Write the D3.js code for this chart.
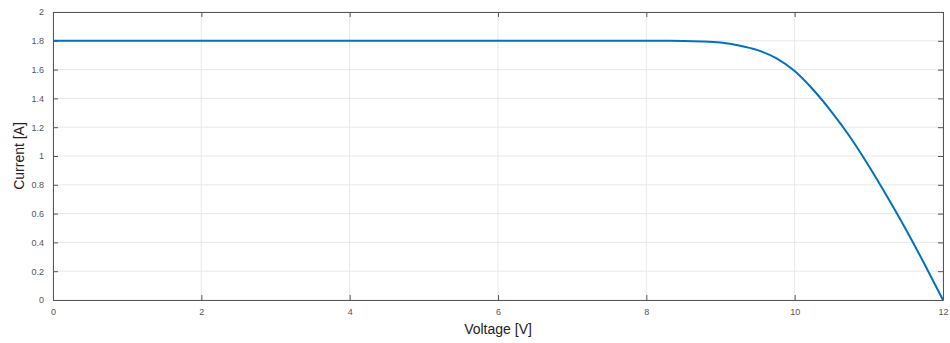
<!DOCTYPE html>
<html>
<head>
<meta charset="utf-8">
<script src="https://cdn.jsdelivr.net/npm/d3@7"></script>
<style>
body{margin:0;background:#fff;}
svg{font-family:"Liberation Sans",Arial,sans-serif;}
</style>
</head>
<body>
<svg id="chart" width="950" height="343"></svg>
<script>
// I-V curve samples
let voltage = [0, 2, 4, 6, 7, 8, 8.5, 8.75, 9, 9.25, 9.5, 9.75, 10, 10.25, 10.5, 10.75, 11, 11.25, 11.5, 11.75, 12];
let current = [1.8, 1.8, 1.8, 1.8, 1.8, 1.8, 1.799, 1.796, 1.788, 1.768, 1.735, 1.68, 1.59, 1.46, 1.305, 1.13, 0.93, 0.715, 0.49, 0.25, 0];
let xTicks = [0, 2, 4, 6, 8, 10, 12];
let yTicks = [0, 0.2, 0.4, 0.6, 0.8, 1, 1.2, 1.4, 1.6, 1.8, 2];

let svg = d3.select('#chart');
let m = {l: 53, r: 943, t: 12, b: 300};
let x = d3.scaleLinear().domain([0, 12]).range([m.l, m.r]);
let y = d3.scaleLinear().domain([0, 2]).range([m.b, m.t]);
let axisCol = '#555';

// grid
let grid = svg.append('g');
grid.selectAll('.vg').data(xTicks).join('line')
  .attr('x1', d => x(d)).attr('x2', d => x(d)).attr('y1', m.t).attr('y2', m.b)
  .attr('stroke', '#e8e8e8').attr('stroke-width', 1);
grid.selectAll('.hg').data(yTicks).join('line')
  .attr('y1', d => y(d)).attr('y2', d => y(d)).attr('x1', m.l).attr('x2', m.r)
  .attr('stroke', '#e8e8e8').attr('stroke-width', 1);

function styleAxis(g){
  g.select('.domain').attr('stroke', axisCol);
  g.selectAll('.tick line').attr('stroke', axisCol);
  g.selectAll('.tick text').attr('fill', '#555').style('font-size', '9px');
}
let fmt = d3.format('~g');

svg.append('g').attr('transform', `translate(0,${m.b})`)
  .call(d3.axisBottom(x).tickValues(xTicks).tickFormat(fmt).tickSizeInner(-5).tickSizeOuter(0).tickPadding(9))
  .call(styleAxis);
svg.append('g').attr('transform', `translate(${m.l},0)`)
  .call(d3.axisLeft(y).tickValues(yTicks).tickFormat(fmt).tickSizeInner(-5).tickSizeOuter(0).tickPadding(9))
  .call(styleAxis);
svg.append('g').attr('transform', `translate(0,${m.t})`)
  .call(d3.axisTop(x).tickValues(xTicks).tickFormat('').tickSizeInner(-5).tickSizeOuter(0))
  .call(styleAxis);
svg.append('g').attr('transform', `translate(${m.r},0)`)
  .call(d3.axisRight(y).tickValues(yTicks).tickFormat('').tickSizeInner(-5).tickSizeOuter(0))
  .call(styleAxis);

// curve
let pts = voltage.map((v, i) => [v, current[i]]);
svg.append('path').datum(pts)
  .attr('fill', 'none').attr('stroke', '#0072BD').attr('stroke-width', 2)
  .attr('d', d3.line().x(d => x(d[0])).y(d => y(d[1])).curve(d3.curveMonotoneX));

// titles
svg.append('text').attr('x', (m.l + m.r) / 2).attr('y', 334)
  .attr('text-anchor', 'middle').style('font-size', '14px').attr('fill', '#222').text('Voltage [V]');
svg.append('text').attr('transform', `translate(24,${(m.t + m.b) / 2}) rotate(-90)`)
  .attr('text-anchor', 'middle').style('font-size', '14px').attr('fill', '#222').text('Current [A]');
</script>
</body>
</html>
